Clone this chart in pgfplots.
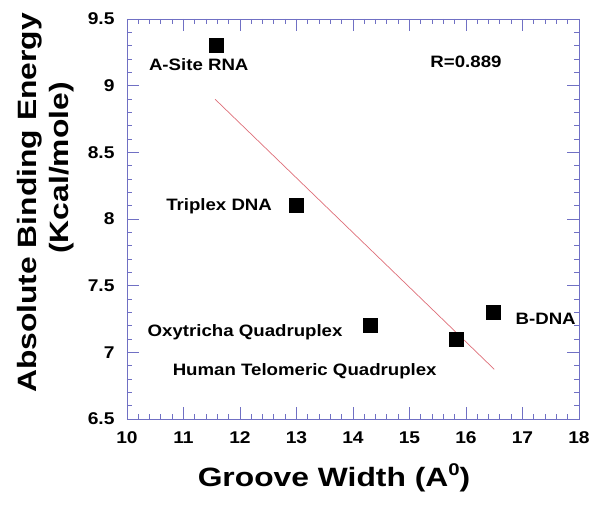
\documentclass[border=0pt]{standalone}
\usepackage{pgfplots}
\pgfplotsset{compat=1.18}
\usepackage{fontspec}
\setmainfont{Liberation Sans}
\newfontfamily\wideA[FakeStretch=1.2]{Liberation Sans}
\newfontfamily\wideB[FakeStretch=1.13]{Liberation Sans}
\definecolor{axcol}{RGB}{112,112,196}
\definecolor{fitcol}{RGB}{222,110,120}
\begin{document}
\begin{tikzpicture}
\path (-127pt,-85pt) rectangle (473pt,419pt);
\begin{axis}[
  at={(0pt,0pt)}, anchor=south west,
  scale only axis, width=452pt, height=400pt,
  xmin=10, xmax=18, ymin=6.5, ymax=9.5,
  xtick={10,11,...,18},
  ytick={6.5,7,7.5,8,8.5,9,9.5},
  yticklabels={6.5,7,7.5,8,8.5,9,9.5},
  minor x tick num=4, minor y tick num=4,
  major tick length=12pt, minor tick length=5pt,
  tick align=inside,
  axis line style={axcol, line width=0.9pt},
  every tick/.style={axcol, line width=0.9pt},
  /pgf/number format/assume math mode=true,
  ticklabel style={font=\wideB\fontsize{17}{20}\selectfont\bfseries},
  xticklabel style={yshift=-9pt},
  yticklabel style={xshift=-9pt},
  clip=false,
]
\addplot[fitcol, line width=0.7pt] coordinates {(11.56,8.898) (16.5,6.873)};
\addplot[only marks, mark=square*, mark size=7pt, mark options={fill=black, draw=black}] coordinates {
 (11.58,9.30) (13.0,8.10) (14.3,7.20) (15.83,7.10) (16.48,7.30)};
\begin{scope}[every node/.style={font=\wideB\fontsize{16.5}{19}\selectfont\bfseries}]
\node at (axis cs:11.27,9.155) {A-Site RNA};
\node at (axis cs:11.63,8.097) {Triplex DNA};
\node at (axis cs:12.09,7.15) {Oxytricha Quadruplex};
\node at (axis cs:13.145,6.855) {Human Telomeric Quadruplex};
\node at (axis cs:17.41,7.255) {B-DNA};
\node at (axis cs:16.0,9.18) {R=0.889};
\end{scope}
\node[rotate=90, font=\wideA\fontsize{26.5}{30}\selectfont\bfseries] at (axis description cs:-0.2146,0.54) {Absolute Binding Energy};
\node[rotate=90, font=\wideA\fontsize{26.5}{30}\selectfont\bfseries] at (axis description cs:-0.1438,0.6275) {(Kcal/mole)};
\node[font=\wideA\fontsize{26.5}{30}\selectfont\bfseries] at (axis description cs:0.458,-0.1475) {Groove Width (A\raisebox{11pt}{\fontsize{17}{20}\selectfont 0})};
\end{axis}
\end{tikzpicture}
\end{document}
